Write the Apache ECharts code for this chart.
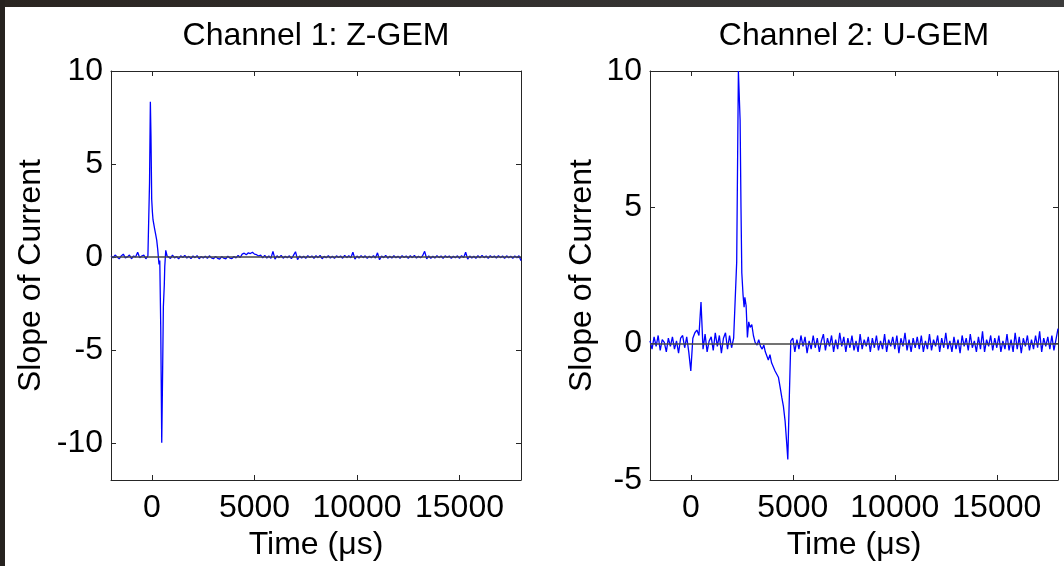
<!DOCTYPE html>
<html>
<head>
<meta charset="utf-8">
<script src="https://cdn.jsdelivr.net/npm/echarts@6/dist/echarts.min.js"></script>
<style>
html,body{margin:0;padding:0;background:#fff;}
#chart{width:1064px;height:566px;}
</style>
</head>
<body>
<div id="chart"></div>
<script>
// ---------- data ----------
const titles = ['Channel 1: Z-GEM', 'Channel 2: U-GEM'];
const xName = 'Time (μs)';
const yName = 'Slope of Current';
const xTicks = [0, 5000, 10000, 15000];
const ch1YTicks = [-10, -5, 0, 5, 10];
const ch2YTicks = [-5, 0, 5, 10];
const sampleStep = 100; // µs between noise samples

// Channel 1 — baseline before the pulse, starting at -2000 µs
const ch1PreStart = -2000;
const ch1Pre = [0.05,-0.05,0.1,0,-0.1,0.05,0.15,-0.05,0,0.1,-0.1,0.05,0,0.25,-0.05,0.05,0.1,-0.1,0.05];
// Channel 1 — pulse [time, value]
const ch1Pulse = [
  [-180,0.1],[-120,4],[-80,8.35],[-50,6.5],[-15,3.1],[20,2.4],[49,2.0],[90,2.1],[130,1.5],
  [181,1.2],[230,0.9],[260,1.0],[280,0.4],[309,0.0],[343,-0.4],[380,-0.2],[426,-3.75],
  [475,-10.0],[520,-6],[554,-2.7],[600,-1.5],[623,-0.5],[671,0.35],[735,0.05]
];
// Channel 1 — baseline after the pulse, starting at 800 µs
const ch1PostStart = 800;
const ch1Post = [
  0.05,-0.08,0.1,-0.05,0.02,-0.1,0.06,-0.03,0.08,-0.06,
  0.03,-0.09,0.05,-0.04,0.07,-0.1,0.02,-0.06,0.04,-0.08,
  0.06,-0.05,-0.1,0.03,-0.08,-0.12,0.02,-0.07,-0.1,0.04,
  -0.06,-0.09,0.02,-0.05,0.08,-0.03,0.15,0.2,0.12,0.22,
  0.18,0.25,0.15,0.12,0.05,0.1,-0.05,0.08,-0.06,0.05,
  -0.08,0.3,-0.12,0.06,-0.04,0.08,-0.07,0.03,-0.05,0.06,
  -0.09,0.08,0.28,-0.15,0.05,-0.06,0.04,-0.08,0.07,-0.03,
  0.05,-0.07,0.06,-0.04,0.08,-0.1,0.03,-0.05,0.07,-0.06,
  0.04,-0.08,0.06,-0.03,0.05,-0.07,0.08,-0.04,0.06,-0.05,
  0.25,-0.12,0.05,-0.06,0.07,-0.04,0.06,-0.08,0.04,-0.05,
  0.07,-0.06,0.22,-0.15,0.05,-0.04,0.08,-0.07,0.03,-0.06,
  0.06,-0.05,0.04,-0.08,0.07,-0.03,0.05,-0.07,0.06,-0.04,
  0.08,-0.06,0.04,-0.05,0.06,0.3,-0.1,0.05,-0.07,0.04,
  -0.06,0.07,-0.04,0.05,-0.08,0.06,-0.03,0.05,-0.07,0.04,
  -0.05,0.06,-0.08,0.07,-0.04,0.25,-0.12,0.05,-0.06,0.04,
  -0.07,0.06,-0.05,0.08,-0.04,0.05,-0.07,0.06,-0.03,0.05,
  -0.06,0.07,-0.04,0.05,-0.08,0.06,-0.05,0.04,-0.07,0.05,
  -0.04,0.06,-0.2
];

// Channel 2 — baseline before the pulse, starting at -2000 µs
const ch2PreStart = -2000;
const ch2Pre = [
  0.1,-0.2,0.25,-0.1,0.3,-0.25,0.15,0.05,-0.3,0.2,
  -0.1,0.25,-0.2,0.1,-0.35,0.2,0.3,-0.15,0.25,-0.3,
  -1.0,0.2,0.4,0.5,0.3,1.53,-0.2,0.35,-0.3,0.1,
  0.25,-0.25,0.4,-0.1,0.3,-0.35,0.2,0.4,-0.2,0.3,
  -0.15,0.2
];
// Channel 2 — pulse [time, value]
const ch2Pulse = [
  [2172,0.2],[2250,3],[2333,10.0],[2417,8.2],[2460,5],[2500,2.6],[2560,1.8],[2613,1.34],
  [2650,1.7],[2711,1.4],[2775,0.23],[2840,0.8],[2907,0.6],[2990,0.7],[3069,0.3],[3152,0.05],
  [3250,-0.05],[3330,0.15],[3417,-0.1],[3500,-0.2],[3580,-0.05],[3652,-0.3],[3725,-0.35],
  [3800,-0.6],[3880,-0.4],[3960,-0.7],[4049,-0.74],[4130,-1.0],[4216,-0.95],[4294,-1.23],
  [4380,-1.6],[4461,-1.97],[4540,-2.3],[4623,-2.84],[4706,-3.7],[4755,-4.25],[4833,-1.85],
  [4902,0.1]
];
// Channel 2 — baseline after the pulse, starting at 5000 µs
const ch2PostStart = 5000;
const ch2Post = [
  0.2,-0.3,0.15,-0.2,0.3,-0.1,0.25,-0.35,0.1,-0.2,
  0.3,-0.15,0.2,-0.3,0.1,0.35,-0.25,0.2,-0.1,0.3,
  -0.3,0.15,-0.2,0.4,-0.1,0.25,-0.3,0.2,-0.15,0.3,
  -0.25,0.1,-0.3,0.35,-0.2,0.15,-0.1,0.25,-0.3,0.2,
  -0.15,0.3,-0.25,0.1,-0.2,0.35,-0.3,0.15,-0.1,0.25,
  -0.2,0.3,-0.35,0.2,-0.1,0.4,-0.25,0.15,-0.3,0.2,
  -0.15,0.25,-0.2,0.3,-0.3,0.1,-0.2,0.35,-0.25,0.15,
  -0.1,0.3,-0.3,0.2,-0.15,0.4,-0.2,0.1,-0.3,0.25,
  -0.2,0.15,-0.35,0.3,-0.1,0.2,-0.25,0.35,-0.15,0.1,
  -0.3,0.25,-0.2,0.45,-0.3,0.15,-0.1,0.3,-0.25,0.2,
  -0.15,0.3,-0.3,0.1,-0.2,0.35,-0.25,0.15,-0.3,0.4,
  -0.2,0.25,-0.35,0.2,-0.1,0.3,-0.25,0.15,-0.2,0.3,
  -0.15,0.45,-0.3,0.2,-0.1,0.25,-0.2,0.3,-0.25,0.15,
  0.55
];

// ---------- build series data ----------
function sampled(start, vals) { return vals.map((v, i) => [start + i * sampleStep, v]); }
const ch1Data = sampled(ch1PreStart, ch1Pre).concat(ch1Pulse, sampled(ch1PostStart, ch1Post));
const ch2Data = sampled(ch2PreStart, ch2Pre).concat(ch2Pulse, sampled(ch2PostStart, ch2Post));

// ---------- chart ----------
const FONT = '"Liberation Sans", Arial, Helvetica, sans-serif';
const FS = 32;
const axisColor = '#262626';
const plainNum = v => String(v);
const grids = [
  {left: 111, top: 71, width: 410, height: 409},
  {left: 650, top: 71, width: 408, height: 409}
];

function xAxes(gi) {
  return [
    {
      gridIndex: gi, type: 'value', min: -2000, max: 18000, position: 'bottom',
      axisLine: {show: true, onZero: false, lineStyle: {color: axisColor, width: 1}},
      axisTick: {show: true, inside: true, length: 5, customValues: xTicks, lineStyle: {color: axisColor}},
      axisLabel: {show: true, customValues: xTicks, formatter: plainNum, fontSize: FS, fontFamily: FONT, color: '#000', margin: 12},
      splitLine: {show: false},
      name: xName, nameLocation: 'middle', nameGap: 46,
      nameTextStyle: {fontSize: FS, fontFamily: FONT, color: '#000'}
    },
    {
      gridIndex: gi, type: 'value', min: -2000, max: 18000, position: 'top',
      axisLine: {show: true, onZero: false, lineStyle: {color: axisColor, width: 1}},
      axisTick: {show: true, inside: true, length: 5, customValues: xTicks, lineStyle: {color: axisColor}},
      axisLabel: {show: false}, splitLine: {show: false}
    }
  ];
}
function yAxes(gi, min, max, ticks, gap) {
  return [
    {
      gridIndex: gi, type: 'value', min: min, max: max, position: 'left',
      axisLine: {show: true, onZero: false, lineStyle: {color: axisColor, width: 1}},
      axisTick: {show: true, inside: true, length: 5, customValues: ticks, lineStyle: {color: axisColor}},
      axisLabel: {show: true, customValues: ticks, formatter: plainNum, fontSize: FS, fontFamily: FONT, color: '#000', margin: 8},
      splitLine: {show: false},
      name: yName, nameLocation: 'middle', nameGap: gap, nameRotate: 90,
      nameTextStyle: {fontSize: FS, fontFamily: FONT, color: '#000'}
    },
    {
      gridIndex: gi, type: 'value', min: min, max: max, position: 'right',
      axisLine: {show: true, onZero: false, lineStyle: {color: axisColor, width: 1}},
      axisTick: {show: true, inside: true, length: 5, customValues: ticks, lineStyle: {color: axisColor}},
      axisLabel: {show: false}, splitLine: {show: false}
    }
  ];
}

function lineSeries(xi, yi, data) {
  return {
    type: 'line', xAxisIndex: xi, yAxisIndex: yi, data: data,
    showSymbol: false, symbol: 'none', smooth: false,
    lineStyle: {color: '#0000ff', width: 1.3},
    itemStyle: {color: '#0000ff'},
    silent: true,
    markLine: {
      silent: true, symbol: 'none', label: {show: false},
      lineStyle: {color: '#444', type: 'solid', width: 1.5},
      data: [{yAxis: 0}]
    }
  };
}

const chart = echarts.init(document.getElementById('chart'), null, {renderer: 'canvas'});
chart.setOption({
  animation: false,
  backgroundColor: '#ffffff',
  grid: grids,
  xAxis: xAxes(0).concat(xAxes(1)),
  yAxis: yAxes(0, -12, 10, ch1YTicks, 64).concat(yAxes(1, -5, 10, ch2YTicks, 52)),
  series: [lineSeries(0, 0, ch1Data), lineSeries(2, 2, ch2Data)],
  graphic: [
    {type: 'rect', shape: {x: 0, y: 0, width: 1064, height: 7}, style: {fill: new echarts.graphic.LinearGradient(0, 0, 1, 0, [{offset: 0, color: '#2a2521'}, {offset: 1, color: '#3c3c3c'}])}, silent: true, z: 100},
    {type: 'rect', shape: {x: 0, y: 0, width: 5, height: 566}, style: {fill: '#26221f'}, silent: true, z: 100},
    {type: 'text', x: 316, y: 36, style: {text: titles[0], fontSize: FS, fontFamily: FONT, fill: '#000', align: 'center', verticalAlign: 'middle'}},
    {type: 'text', x: 854, y: 36, style: {text: titles[1], fontSize: FS, fontFamily: FONT, fill: '#000', align: 'center', verticalAlign: 'middle'}}
  ]
});
</script>
</body>
</html>
